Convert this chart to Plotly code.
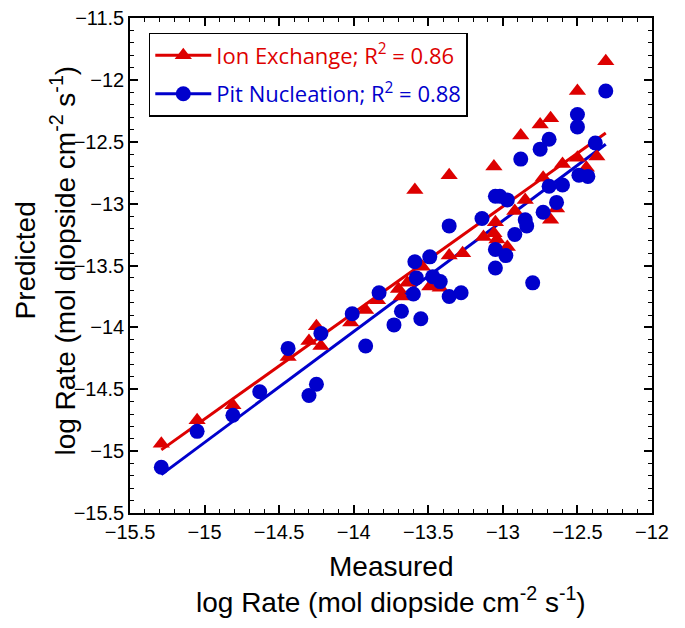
import plotly.graph_objects as go

# Ion Exchange (red triangles): measured vs predicted log rate
ion_x = [-15.29, -15.05, -14.81, -14.44, -14.30, -14.25, -14.22, -14.02, -13.92, -13.84,
         -13.70, -13.68, -13.64, -13.54, -13.49, -13.42, -13.59, -13.36, -13.36, -13.27,
         -13.13, -13.06, -13.05, -13.04, -12.97, -12.92, -12.85, -13.06, -12.88, -12.75,
         -12.68, -12.73, -12.68, -12.64, -12.60, -12.50, -12.44, -12.37, -12.50, -12.31]
ion_y = [-14.94, -14.75, -14.63, -14.24, -14.11, -13.99, -14.15, -13.96, -13.86, -13.78,
         -13.69, -13.75, -13.64, -13.51, -13.67, -13.68, -12.89, -12.77, -13.42, -13.40,
         -13.27, -13.24, -13.15, -13.29, -13.35, -13.06, -12.97, -12.70, -12.45, -12.36,
         -12.31, -12.79, -13.13, -13.04, -12.68, -12.63, -12.71, -12.62, -12.09, -11.85]

# Pit Nucleation (blue circles)
pit_x = [-15.29, -15.05, -14.81, -14.63, -14.44, -14.30, -14.25, -14.22, -14.01, -13.92,
         -13.83, -13.73, -13.68, -13.60, -13.58, -13.59, -13.55, -13.49, -13.47, -13.42,
         -13.36, -13.28, -13.36, -13.14, -13.05, -13.02, -12.97, -13.05, -12.98, -13.05,
         -12.92, -12.85, -12.84, -12.80, -12.73, -12.69, -12.64, -12.60, -12.49, -12.43,
         -12.38, -12.88, -12.75, -12.69, -12.50, -12.50, -12.31]
pit_y = [-15.13, -14.84, -14.71, -14.52, -14.17, -14.55, -14.46, -14.05, -13.89, -14.15,
         -13.72, -13.98, -13.87, -13.73, -13.60, -13.47, -13.93, -13.43, -13.59, -13.63,
         -13.75, -13.72, -13.18, -13.12, -12.94, -12.94, -12.97, -13.37, -13.42, -13.52,
         -13.25, -13.13, -13.18, -13.64, -13.07, -12.86, -12.99, -12.85, -12.77, -12.78,
         -12.51, -12.64, -12.56, -12.48, -12.38, -12.28, -12.09]

# Regression lines (end points)
fit_x = [-15.29, -12.31]
ion_fit_y = [-14.99, -12.43]
pit_fit_y = [-15.19, -12.52]

RED = "#DD0000"
BLUE = "#0000CC"

fig = go.Figure()
fig.add_trace(go.Scatter(x=fit_x, y=ion_fit_y, mode="lines",
                         line=dict(color=RED, width=3), showlegend=False))
fig.add_trace(go.Scatter(x=fit_x, y=pit_fit_y, mode="lines",
                         line=dict(color=BLUE, width=3), showlegend=False))
fig.add_trace(go.Scatter(x=ion_x, y=ion_y, mode="markers",
                         marker=dict(symbol="triangle-up", size=15, color=RED),
                         showlegend=False))
fig.add_trace(go.Scatter(x=pit_x, y=pit_y, mode="markers",
                         marker=dict(symbol="circle", size=15, color=BLUE),
                         showlegend=False))
# legend entries (line + marker)
fig.add_trace(go.Scatter(x=[None], y=[None], mode="lines+markers", legendgroup="a",
                         name=f'<span style="color:{RED}">Ion Exchange; R<sup>2</sup> = 0.86</span>',
                         line=dict(color=RED, width=3),
                         marker=dict(symbol="triangle-up", size=15, color=RED)))
fig.add_trace(go.Scatter(x=[None], y=[None], mode="lines+markers", legendgroup="b",
                         name=f'<span style="color:{BLUE}">Pit Nucleation; R<sup>2</sup> = 0.88</span>',
                         line=dict(color=BLUE, width=3),
                         marker=dict(symbol="circle", size=15, color=BLUE)))

axis_common = dict(
    showline=True, linecolor="black", linewidth=1.5, mirror="allticks",
    ticks="inside", ticklen=8, tickwidth=1.5, tickcolor="black",
    dtick=0.5, showgrid=False, zeroline=False, automargin=False,
    ticklabeloverflow="allow",
    minor=dict(ticks="inside", ticklen=4, tickwidth=1.2, tickcolor="black", dtick=0.1, showgrid=False),
    tickfont=dict(family="Liberation Sans, Arial", size=20, color="black"),
)

fig.update_xaxes(range=[-15.5, -12], tick0=-15.5, **axis_common)
fig.update_yaxes(range=[-15.5, -11.5], tick0=-15.5, **axis_common)

title_font = dict(family="Liberation Sans, Arial", size=28, color="black")
x_title = ["Measured", "log Rate (mol diopside cm<sup>-2</sup> s<sup>-1</sup>)"]
y_title = ["Predicted", "log Rate (mol diopside cm<sup>-2</sup> s<sup>-1</sup>)"]
annotations = [
    dict(text=x_title[0], xref="paper", yref="paper", x=0.5, y=0, yanchor="middle",
         yshift=-53, showarrow=False, font=title_font),
    dict(text=x_title[1], xref="paper", yref="paper", x=0.5, y=0, yanchor="middle",
         yshift=-87, showarrow=False, font=title_font),
    dict(text=y_title[0], xref="paper", yref="paper", x=0, y=0.51, xanchor="center",
         xshift=-104, textangle=-90, showarrow=False, font=title_font),
    dict(text=y_title[1], xref="paper", yref="paper", x=0, y=0.51, xanchor="center",
         xshift=-67, textangle=-90, showarrow=False, font=title_font),
]

fig.update_layout(
    width=677, height=620,
    margin=dict(l=122, r=33, t=10, b=115),
    plot_bgcolor="white", paper_bgcolor="white",
    annotations=annotations,
    legend=dict(x=0.036, y=0.97, xanchor="left", yanchor="top",
                bordercolor="black", borderwidth=1.5, bgcolor="white",
                font=dict(family="Open Sans", size=22),
                itemwidth=56, tracegroupgap=7),
)

fig.write_html("out.html")
